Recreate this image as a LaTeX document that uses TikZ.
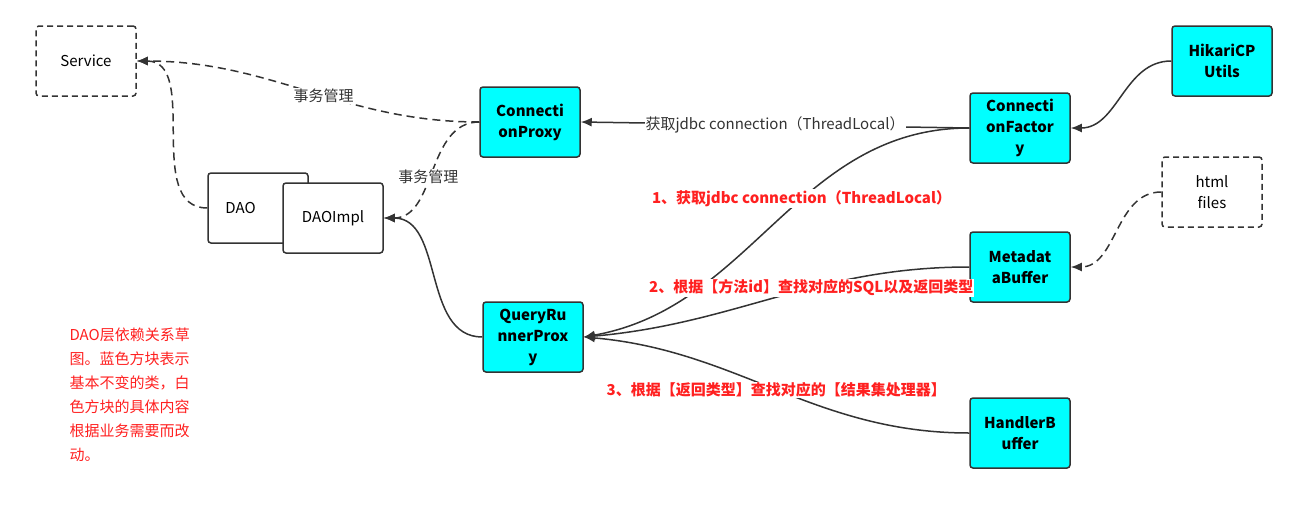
\documentclass[tikz,border=0pt]{standalone}
\usepackage{fontspec}
\setmainfont{Noto Sans CJK SC}
\usetikzlibrary{arrows.meta}
\definecolor{ln}{HTML}{333333}
\definecolor{cy}{HTML}{00FFFF}
\definecolor{rd}{HTML}{FF2020}
\begin{document}
\begin{tikzpicture}[x=1pt,y=-1pt,
  box/.style={draw=ln,line width=1.5pt,rounded corners=3pt,minimum width=100pt,minimum height=70pt,align=center,font=\fontsize{15}{21}\selectfont,inner sep=0pt},
  blue/.style={box,fill=cy,font=\fontsize{15}{21}\selectfont\bfseries},
  wbox/.style={box,fill=white},
  dbox/.style={box,dashed,dash pattern=on 6pt off 4pt},
  con/.style={draw=ln,line width=1.5pt,-{Latex[length=11pt,width=9pt]}},
  dcon/.style={con,dash pattern=on 8pt off 5pt},
  gl/.style={fill=white,text=ln,font=\fontsize{15}{18}\selectfont,inner sep=1pt},
  rl/.style={fill=white,text=rd,font=\fontsize{15}{18}\selectfont\bfseries,inner sep=1pt}]
\useasboundingbox (0,0) rectangle (1309,506);
\node[dbox] (svc) at (86,61) {Service};
\node[blue] (cp) at (530,122) {Connecti\\onProxy};
\node[wbox] (dao) at (258,208) {DAO\hspace*{35pt}};
\node[wbox] (impl) at (333,218) {DAOImpl};
\node[blue] (qrp) at (533,337) {QueryRu\\nnerProx\\y};
\node[blue] (cf) at (1020,128) {Connecti\\onFactor\\y};
\node[blue] (hk) at (1222,61) {HikariCP\\Utils};
\node[dbox] (html) at (1212,192) {html\\files};
\node[blue] (mb) at (1020,267) {Metadat\\aBuffer};
\node[blue] (hb) at (1020,433) {HandlerB\\uffer};
\node[text=rd,align=left,anchor=north west,font=\fontsize{15}{24}\selectfont] (note) at (66,324)
 {DAO层依赖关系草\\图。蓝色方块表示\\基本不变的类，白\\色方块的具体内容\\根据业务需要而改\\动。};

\draw[dcon] (cp.west) to[out=180,in=0] node[gl,pos=0.45] {事务管理} (svc.east);
\draw[dcon] (cp.west) to[out=180,in=0] node[gl,pos=0.55] {事务管理} (impl.east);
\draw[dcon] (dao.west) to[out=180,in=0] (svc.east);
\draw[con] (qrp.west) to[out=180,in=0] (impl.east);
\draw[con] (cf.west) -- node[gl,pos=0.5] {获取jdbc connection（ThreadLocal）} (cp.east);
\draw[con] (cf.west) to[out=180,in=10] node[rl,pos=0.42] {1、获取jdbc connection（ThreadLocal）} (qrp.east);
\draw[con] (mb.west) to[out=180,in=5] node[rl,pos=0.4] {2、根据【方法id】查找对应的SQL以及返回类型} (qrp.east);
\draw[con] (hb.west) to[out=180,in=-5] node[rl,pos=0.5] {3、根据【返回类型】查找对应的【结果集处理器】} (qrp.east);
\draw[con] (hk.west) to[out=180,in=0] (cf.east);
\draw[dcon] (html.west) to[out=180,in=0] (mb.east);
\end{tikzpicture}
\end{document}
